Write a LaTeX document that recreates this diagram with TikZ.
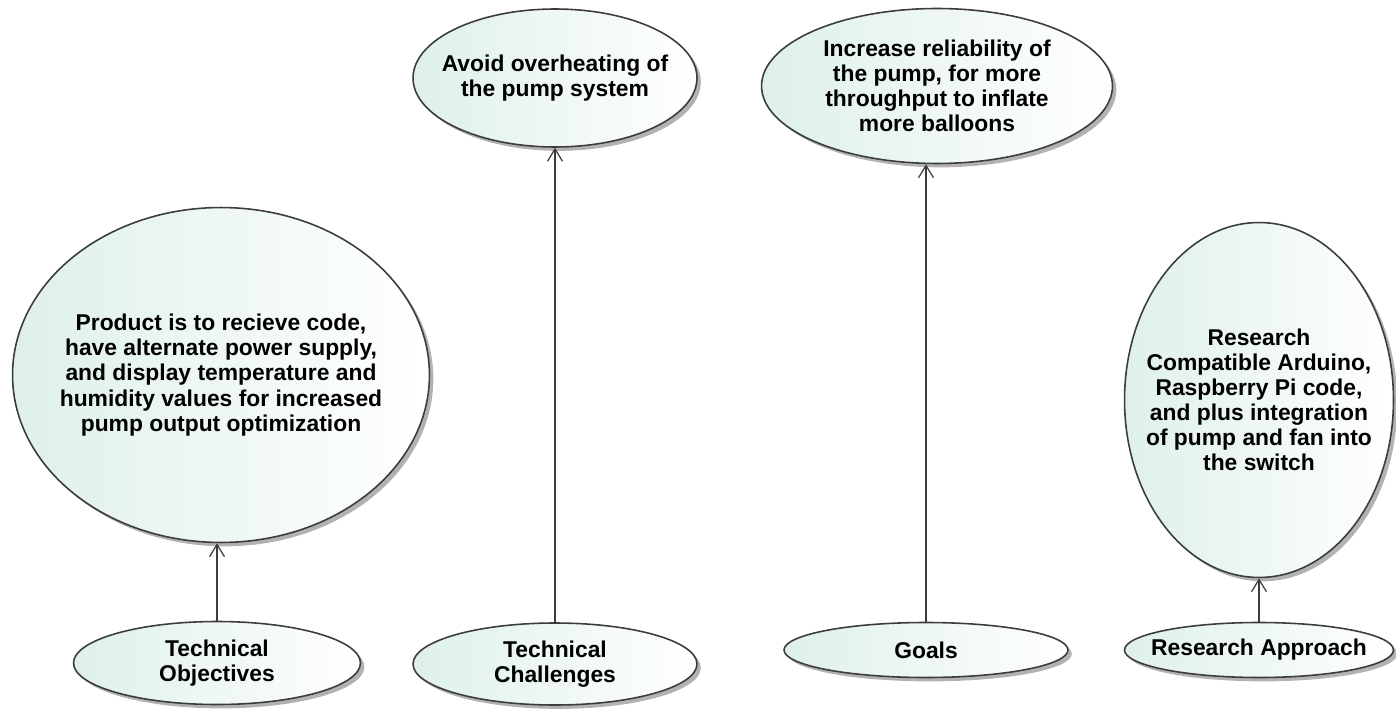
\documentclass[tikz,border=0pt]{standalone}
\usepackage{fontspec}
\setmainfont{Liberation Sans}
\usepackage{xcolor}
\usetikzlibrary{positioning, arrows.meta, shapes.geometric, shadows}

\definecolor{casefill}{RGB}{222,240,235}
\definecolor{caseline}{RGB}{60,60,60}

\begin{document}
\begin{tikzpicture}[x=0.02cm, y=-0.02cm,
        usecase/.style={ellipse, draw=caseline, line width=0.9pt,
            left color=casefill, right color=white, inner sep=-1cm, align=center,
            font=\bfseries\fontsize{13}{14.3}\selectfont,
            drop shadow={shadow xshift=2.2pt, shadow yshift=-2.2pt, fill=black!55, opacity=0.55}},
        link/.style={draw=caseline, line width=0.7pt, -{Straight Barb[length=7pt, width=8.5pt]}}]
        \useasboundingbox (0,0) rectangle (1396,709);

        % Upper row of use cases
        \node[usecase, minimum width=8.34cm, minimum height=6.7cm] (objtext) at (221,375)
            {Product is to recieve code,\\ have alternate power supply,\\ and display temperature and\\ humidity values for increased\\ pump output optimization};
        \node[usecase, minimum width=5.68cm, minimum height=2.76cm] (chaltext) at (555,78)
            {Avoid overheating of\\ the pump system};
        \node[usecase, minimum width=7.02cm, minimum height=3.1cm] (goaltext) at (937,86)
            {Increase reliability of\\ the pump, for more\\ throughput to inflate\\ more balloons};
        \node[usecase, minimum width=5.38cm, minimum height=7.1cm] (apprtext) at (1259,400)
            {Research\\ Compatible Arduino,\\ Raspberry Pi code,\\ and plus integration\\ of pump and fan into\\ the switch};

        % Bottom row
        \node[usecase, minimum width=5.74cm, minimum height=1.66cm] (obj) at (217,663) {Technical\\ Objectives};
        \node[usecase, minimum width=5.68cm, minimum height=1.64cm] (chal) at (555,664) {Technical\\ Challenges};
        \node[usecase, minimum width=5.68cm, minimum height=1.1cm] (goals) at (926,650) {Goals};
        \node[usecase, minimum width=5.38cm, minimum height=1.1cm] (appr) at (1259,650) {Research Approach};

        % Links
        \foreach \src/\dst in {obj/objtext, chal/chaltext, goals/goaltext, appr/apprtext} {
            \draw[link] (\src.north) -- (\src.north |- \dst.south);
        }
    \end{tikzpicture}
\end{document}
